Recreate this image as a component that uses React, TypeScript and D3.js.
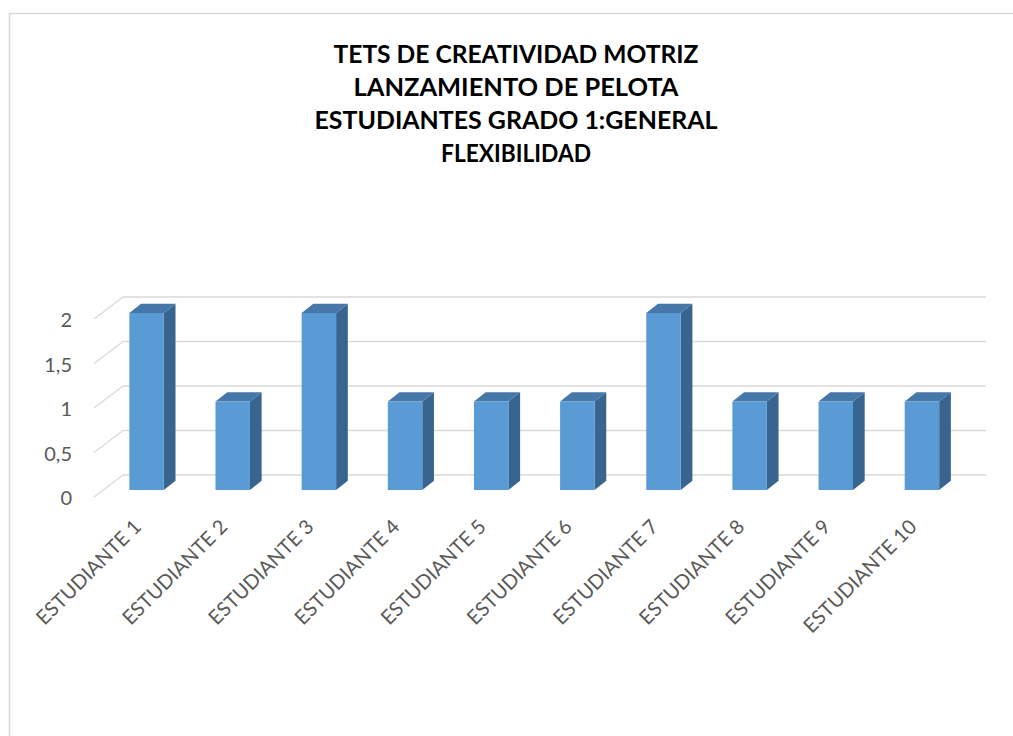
import React from "react";
import * as d3 from "d3";

const categories = [
  "ESTUDIANTE 1", "ESTUDIANTE 2", "ESTUDIANTE 3", "ESTUDIANTE 4", "ESTUDIANTE 5",
  "ESTUDIANTE 6", "ESTUDIANTE 7", "ESTUDIANTE 8", "ESTUDIANTE 9", "ESTUDIANTE 10",
];
const values = [2, 1, 2, 1, 1, 1, 2, 1, 1, 1];
const yTicks = [0, 0.5, 1, 1.5, 2];
const titleLines = [
  "TETS DE CREATIVIDAD MOTRIZ",
  "LANZAMIENTO DE PELOTA",
  "ESTUDIANTES GRADO 1:GENERAL",
  "FLEXIBILIDAD",
];
const titleWidths = [365, 325, 403, 150];

const W = 1013;
const H = 736;

export default function App() {
  const x = d3.scaleBand<string>().domain(categories).range([103.5, 965]).paddingInner(0.6).paddingOuter(0.3);
  const yFront = d3.scaleLinear().domain([0, 2]).range([490, 313]); // bar front face
  const yBack = d3.scaleLinear().domain([0, 2]).range([475, 297]); // back wall
  const wallLeft = 123;
  const wallRight = 986;
  const depthDx = -29;
  const depthDy = 22;
  const barDx = 11.7;
  const barDy = -9.3;
  const fmt = (v: number) => String(v).replace(".", ",");

  return (
    <svg width={W} height={H} style={{ position: "absolute", left: 0, top: 0, background: "#fff" }}>
      <rect x={9.5} y={13.5} width={W} height={H} fill="#fff" stroke="#d9d9d9" strokeWidth={1.5} />
      {titleLines.map((t, i) => (
        <text key={t} x={516} y={63 + i * 33} textAnchor="middle" fontFamily="Lato, 'Open Sans', sans-serif"
          fontWeight={700} fontSize={25} fill="#000" textLength={titleWidths[i]} lengthAdjust="spacingAndGlyphs">{t}</text>
      ))}
      {yTicks.map((t) => (
        <g key={t}>
          <line x1={wallLeft} x2={wallRight} y1={yBack(t)} y2={yBack(t)} stroke="#d9d9d9" strokeWidth={1.3} />
          <line x1={wallLeft} x2={wallLeft + depthDx} y1={yBack(t)} y2={yBack(t) + depthDy} stroke="#d9d9d9" strokeWidth={1.3} />
          <text x={72} y={yBack(t) + depthDy + 8} textAnchor="end" fontFamily="Lato, 'Open Sans', sans-serif"
            fontSize={20} fill="#595959">{fmt(t)}</text>
        </g>
      ))}
      {categories.map((c, i) => {
        const x0 = x(c)!;
        const bw = x.bandwidth();
        const y0 = yFront(0);
        const y1 = yFront(values[i]);
        const top = `M${x0},${y1} L${x0 + barDx},${y1 + barDy} L${x0 + bw + barDx},${y1 + barDy} L${x0 + bw},${y1} Z`;
        const side = `M${x0 + bw},${y1} L${x0 + bw + barDx},${y1 + barDy} L${x0 + bw + barDx},${y0 + barDy} L${x0 + bw},${y0} Z`;
        return (
          <g key={c}>
            <path d={side} fill="#386590" />
            <path d={top} fill="#4577a8" />
            <rect x={x0} y={y1} width={bw} height={y0 - y1} fill="#5b9bd5" />
          </g>
        );
      })}
      {categories.map((c) => {
        const cx = x(c)! + x.bandwidth() / 2 - 4;
        const cy = 528;
        return (
          <text key={c} transform={`translate(${cx},${cy}) rotate(-45)`} textAnchor="end"
            fontFamily="Lato, 'Open Sans', sans-serif" fontSize={20} fill="#595959">{c}</text>
        );
      })}
    </svg>
  );
}
